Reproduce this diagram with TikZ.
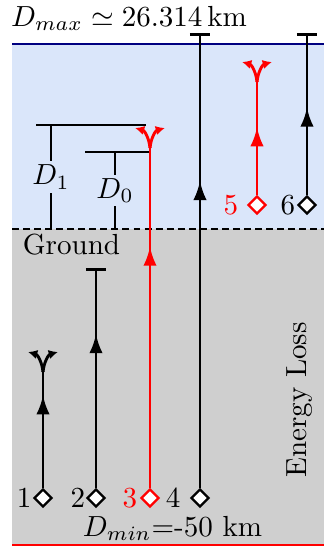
\documentclass[tikz,border=0pt]{standalone}
\usepackage{amsmath,amssymb}
\usetikzlibrary{positioning,arrows.meta,shapes.geometric,decorations.markings}
\definecolor{air}{HTML}{DAE6FA}
\definecolor{soil}{HTML}{CFCFCF}
\definecolor{ceil}{HTML}{000080}
\tikzset{
  src/.style    = {diamond, draw=#1, fill=white, line width=0.8pt, inner sep=0pt, minimum size=6.2pt},
  src/.default  = black,
  num/.style    = {inner sep=0pt},
  track/.style  = {line width=1pt, postaction={decorate},
                   decoration={markings, mark=at position #1 with {\arrow{Latex[length=6.6pt,width=4.6pt]}}}},
  halt/.style   = {-{Bar[width=6.9pt]}},
  arm/.style    = {line width=1pt, -{Latex[length=3.2pt,width=3.2pt]}},
  ruler/.style  = {semithick},
  lbl/.style    = {fill=air, inner sep=1.3pt},
}
\newcommand{\burst}[2]{%
  \draw[arm,#2] (#1) to[out=95,in=-15] ++(-15,-20);
  \draw[arm,#2] (#1) to[out=85,in=195] ++(15,-20);
}

\begin{document}
\begin{tikzpicture}[x=0.344pt, y=-0.344pt]
  \useasboundingbox (0,0) rectangle (324,547);
  % atmosphere and ground layers
  \fill[air]  (12,44) rectangle (324,229);
  \fill[soil] (12,229) rectangle (324,545);
  \draw[thick, ceil] (12,44) -- (324,44);
  \draw[thick, dash pattern=on 2.4pt off 1.4pt] (12,229) -- (324,229);
  \draw[thick, red] (12,545) -- (324,545);

  \node[anchor=base] (dmax)   at (129,26.5)  {$D_{max}\simeq 26.314\,$km};
  \node[anchor=base] (dmin)   at (172.5,536) {$D_{min}$=-50 km};
  \node[anchor=base] (ground) at (71.5,254.5) {Ground};
  \node[rotate=90, anchor=base] (eloss) at (306,400) {Energy Loss};

  % depth rulers
  \draw[ruler] (36,125) -- (146,125);
  \draw[ruler] (51,125) -- node[lbl] (d1) {$D_1$} (51,229);
  \draw[ruler] (85,152) -- (150,152);
  \draw[ruler] (115,152) -- node[lbl] (d0) {$D_0$} (115,229);

  \node[src]     (src1) at (43,498)  {};
  \node[src]     (src2) at (96,498)  {};
  \node[src=red] (src3) at (150,498) {};
  \node[src]     (src4) at (200,498) {};
  \node[src=red] (src5) at (257,205) {};
  \node[src]     (src6) at (307,205) {};

  \node[num, left=0.3pt of src1] (n1) {1};
  \node[num, left=0pt of src2] (n2) {2};
  \node[num, red, left=0.7pt of src3] (n3) {3};
  \node[num, left=3pt of src4] (n4) {4};
  \node[num, red, left=2.8pt of src5] (n5) {5};
  \node[num, left=0.4pt of src6] (n6) {6};

  \coordinate (fork1) at (43,372);
  \coordinate (end2)  at (96,268);
  \coordinate (fork3) at (150,148);
  \coordinate (end4)  at (200,33);
  \coordinate (fork5) at (257,82);
  \coordinate (end6)  at (307,33);

  \draw[track=0.80]        (src1) -- (fork1);
  \draw[track=0.70, halt]  (src2) -- (end2);
  \draw[track=0.71, red]   (src3) -- (fork3);
  \draw[track=0.675, halt] (src4) -- (end4);
  \draw[track=0.60, red]   (src5) -- (fork5);
  \draw[track=0.54, halt]  (src6) -- (end6);

  % secondary showers
  \burst{fork1}{black}
  \burst{fork3}{red}
  \burst{fork5}{red}
\end{tikzpicture}
\end{document}
